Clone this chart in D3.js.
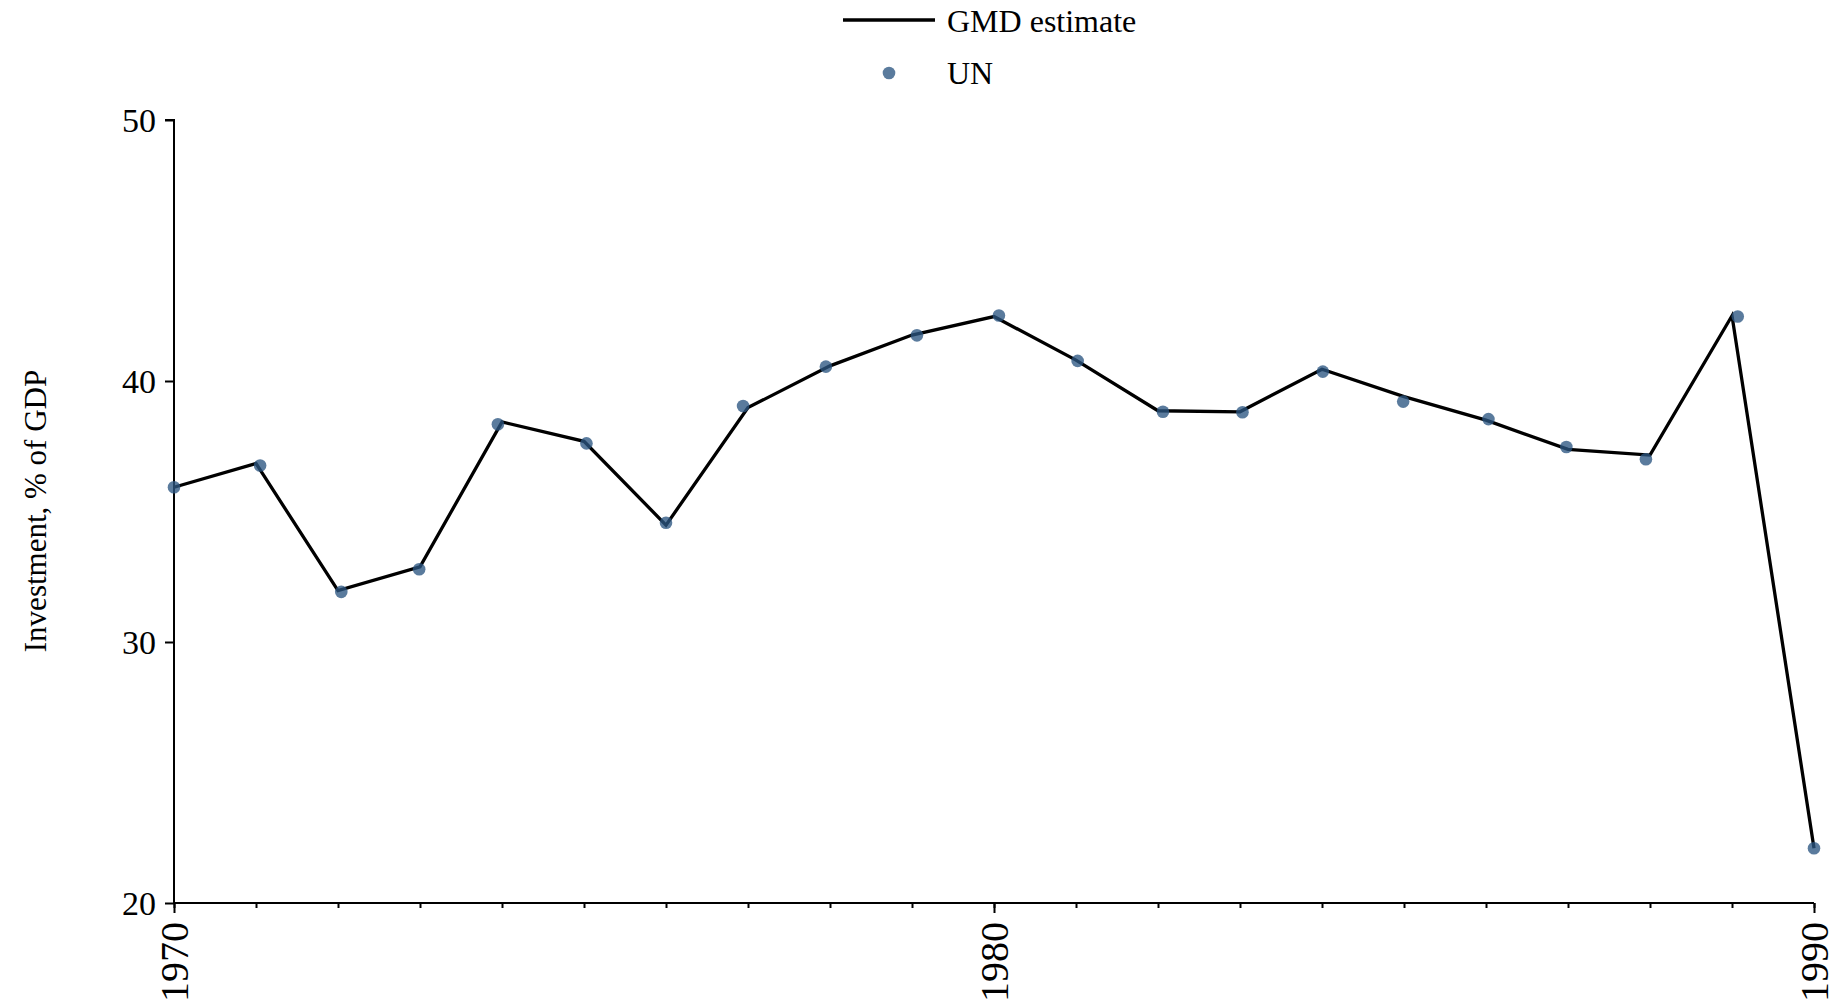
<!DOCTYPE html>
<html>
<head>
<meta charset="utf-8">
<script src="https://cdn.jsdelivr.net/npm/d3@7"></script>
<style>
  html, body { margin: 0; padding: 0; background: #ffffff; }
  svg { display: block; }
  text { font-family: "Liberation Serif", "Times New Roman", serif; fill: #000; }
</style>
</head>
<body>
<svg id="chart" width="1840" height="1006"></svg>
<script>
// ---- data ----
const years = [1970,1971,1972,1973,1974,1975,1976,1977,1978,1979,1980,1981,1982,1983,1984,1985,1986,1987,1988,1989,1990];
const gmdEstimate = [35.93,36.84,31.97,32.88,38.43,37.69,34.48,38.98,40.58,41.76,42.47,40.80,38.86,38.82,40.45,39.40,38.50,37.38,37.16,42.50,22.10];
const unYears = [1970,1971.05,1972.04,1972.99,1973.95,1975.03,1976.0,1976.94,1977.95,1979.06,1980.06,1981.02,1982.06,1983.03,1984.01,1984.99,1986.03,1986.98,1987.95,1989.07,1990];
const unValues = [35.93,36.76,31.92,32.79,38.34,37.61,34.57,39.04,40.55,41.75,42.51,40.77,38.82,38.80,40.36,39.21,38.54,37.47,37.00,42.47,22.10];
const yTicks = [20,30,40,50];
const xMajorTicks = [1970,1980,1990];
const legendLabels = ["GMD estimate","UN"];
const yTitle = "Investment, % of GDP";

// ---- layout ----
const svg = d3.select("#chart");
const x = d3.scaleLinear().domain([1970,1990]).range([174,1814]);
const y = d3.scaleLinear().domain([20,50]).range([903,120]);
const dotColor = "#2b5681";

// y axis
const yAxis = d3.axisLeft(y).tickValues(yTicks).tickSize(9).tickPadding(9).tickFormat(d3.format("d"));
const gy = svg.append("g").attr("transform", `translate(${x(1970)},0)`).call(yAxis);
gy.select(".domain").attr("stroke","#000").attr("stroke-width",2).attr("d", `M-9,${y(50)}H0V${y(20)}`);
gy.selectAll(".tick line").attr("stroke","#000").attr("stroke-width",2);
gy.selectAll(".tick text").attr("font-size",34).attr("font-family","Liberation Serif, serif").attr("dy","0.34em");

// x axis minor ticks
const gxMinor = svg.append("g").attr("transform", `translate(0,${y(20)})`)
  .call(d3.axisBottom(x).tickValues(years).tickSize(5).tickFormat(""));
gxMinor.select(".domain").attr("stroke","#000").attr("stroke-width",2).attr("d", `M${x(1970)},0H${x(1990)}`);
gxMinor.selectAll(".tick line").attr("stroke","#000").attr("stroke-width",2);

// x axis major ticks + labels
const gx = svg.append("g").attr("transform", `translate(0,${y(20)})`)
  .call(d3.axisBottom(x).tickValues(xMajorTicks).tickSize(10).tickFormat(d3.format("d")));
gx.select(".domain").remove();
gx.selectAll(".tick line").attr("stroke","#000").attr("stroke-width",2);
gx.selectAll(".tick text")
  .attr("font-size",40).attr("font-family","Liberation Serif, serif")
  .attr("text-anchor","end").attr("dominant-baseline","central")
  .attr("x",0).attr("y",0).attr("dy",null)
  .attr("transform","translate(0,19) rotate(-90)");

// y title
svg.append("text")
  .attr("transform", `translate(35,${511}) rotate(-90)`)
  .attr("text-anchor","middle").attr("dominant-baseline","central")
  .attr("font-size",31).text(yTitle);

// GMD line
const line = d3.line().x((d,i)=>x(years[i])).y(d=>y(d));
svg.append("path").datum(gmdEstimate)
  .attr("d", line).attr("fill","none").attr("stroke","#000")
  .attr("stroke-width",3.3).attr("stroke-linejoin","miter");

// UN dots
svg.append("g").selectAll("circle").data(unValues).join("circle")
  .attr("cx",(d,i)=>x(unYears[i])).attr("cy",d=>y(d)).attr("r",6.3)
  .attr("fill",dotColor).attr("fill-opacity",0.78);

// legend
const lg = svg.append("g");
lg.append("line").attr("x1",843).attr("x2",935).attr("y1",20).attr("y2",20)
  .attr("stroke","#000").attr("stroke-width",3.3);
lg.append("text").attr("x",947).attr("y",21).attr("dominant-baseline","central")
  .attr("font-size",32).text(legendLabels[0]);
lg.append("circle").attr("cx",889).attr("cy",73).attr("r",6.3)
  .attr("fill",dotColor).attr("fill-opacity",0.78);
lg.append("text").attr("x",947).attr("y",73).attr("dominant-baseline","central")
  .attr("font-size",32).text(legendLabels[1]);
</script>
</body>
</html>
